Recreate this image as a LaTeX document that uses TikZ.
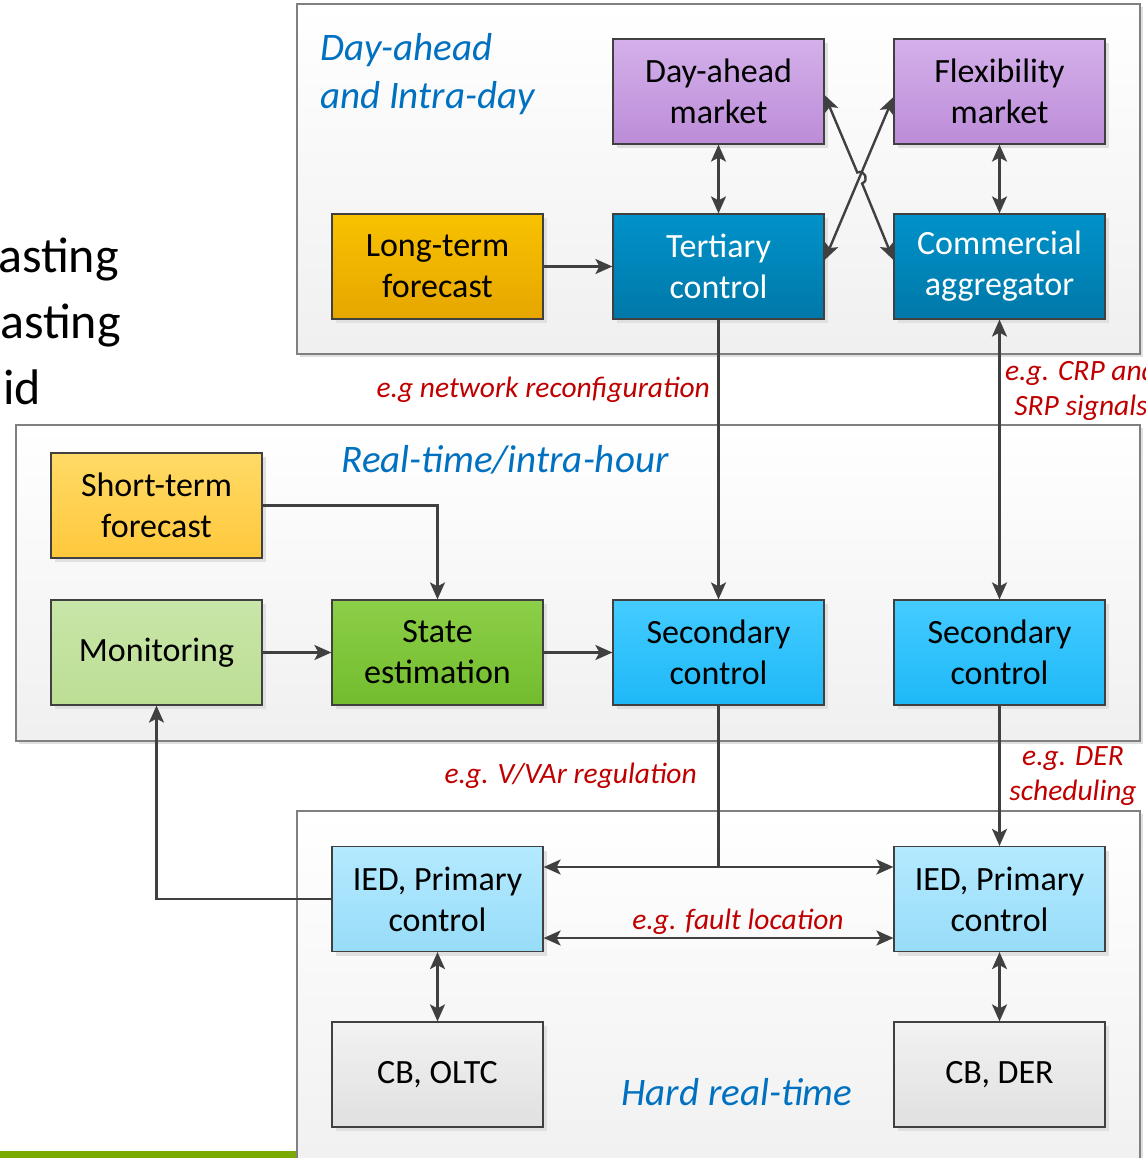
\documentclass[tikz,border=0pt]{standalone}
\usepackage{fontspec}
\setmainfont{Carlito}
\usetikzlibrary{arrows.meta,shadows}

\definecolor{linegray}{HTML}{404040}
\definecolor{purpletop}{HTML}{D4B0EA}
\definecolor{purplebot}{HTML}{BC8CD8}
\definecolor{bluetop}{HTML}{0092CA}
\definecolor{bluebot}{HTML}{0078A8}
\definecolor{orangetop}{HTML}{F8C200}
\definecolor{orangebot}{HTML}{E6A600}
\definecolor{yellowtop}{HTML}{FFDA66}
\definecolor{yellowbot}{HTML}{FFC83C}
\definecolor{lgreentop}{HTML}{C8E6A8}
\definecolor{lgreenbot}{HTML}{BCDE94}
\definecolor{greentop}{HTML}{8CCF48}
\definecolor{greenbot}{HTML}{72BC2E}
\definecolor{cyantop}{HTML}{44CCFF}
\definecolor{cyanbot}{HTML}{1EB8F8}
\definecolor{lcyantop}{HTML}{B4EAFF}
\definecolor{lcyanbot}{HTML}{98DCF8}
\definecolor{graytop}{HTML}{F2F2F2}
\definecolor{graybot}{HTML}{E0E0E0}
\definecolor{titleblue}{HTML}{0070C0}
\definecolor{labelred}{HTML}{C00000}
\definecolor{bargreen}{HTML}{7AAA00}

\begin{document}
\begin{tikzpicture}
     [
     x=1pt, y=-1pt,
     panel/.style={draw=black!50, line width=1.2pt, top color=white, bottom color=black!6, drop shadow={shadow xshift=3pt, shadow yshift=-3pt, fill=black!12, opacity=1}},
     box/.style={rectangle, draw=black!75, line width=1.2pt, align=center, minimum width=211pt, minimum height=105pt, font=\fontsize{34}{41}\selectfont, drop shadow={shadow xshift=4pt, shadow yshift=-4pt, fill=black!12, opacity=1}},
     purplebox/.style={box, top color=purpletop, bottom color=purplebot},
     bluebox/.style={box, top color=bluetop, bottom color=bluebot, text=white},
     orangebox/.style={box, top color=orangetop, bottom color=orangebot},
     yellowbox/.style={box, top color=yellowtop, bottom color=yellowbot},
     lgreenbox/.style={box, top color=lgreentop, bottom color=lgreenbot},
     greenbox/.style={box, top color=greentop, bottom color=greenbot},
     cyanbox/.style={box, top color=cyantop, bottom color=cyanbot},
     lcyanbox/.style={box, top color=lcyantop, bottom color=lcyanbot},
     graybox/.style={box, top color=graytop, bottom color=graybot},
     conn/.style={draw=linegray, line width=2.4pt},
     arr/.style={conn, -{Stealth[length=17pt, width=15pt, inset=4pt]}},
     biarr/.style={conn, {Stealth[length=17pt, width=15pt, inset=4pt]}-{Stealth[length=17pt, width=15pt, inset=4pt]}},
     redtext/.style={text=labelred, font=\fontsize{29.5}{35}\selectfont\itshape, inner sep=0pt},
     bluetitle/.style={text=titleblue, font=\fontsize{39}{48}\selectfont\itshape, inner sep=0pt},
     slidetext/.style={font=\fontsize{50}{60}\selectfont, inner sep=0pt},
     ]
 \clip (0,0) rectangle (1145,1158);
 \fill[white] (0,0) rectangle (1145,1158);

 \node at (119,272) [slidetext, anchor=base east] (frag1) {asting};
 \node at (121,338) [slidetext, anchor=base east] (frag2) {asting};
 \node at (41,404) [slidetext, anchor=base east] (frag3) {id};
 \fill[bargreen] (0,1151) rectangle (300,1170);

 \path[panel] (297,4) rectangle (1140,354);
 \path[panel] (16,425) rectangle (1140,741);
 \path[panel] (297,811) rectangle (1140,1190);

 \node at (320,74) [bluetitle, anchor=west, align=left] (ttop) {Day-ahead\\and Intra-day};
 \node at (505,460) [bluetitle] (tmid) {Real-time/intra-hour};
 \node at (737,1092) [bluetitle] (tbot) {Hard real-time};

 \node at (718.5,91.5) [purplebox] (dam) {Day-ahead\\market};
 \node at (999.5,91.5) [purplebox] (flex) {Flexibility\\market};
 \node at (437.5,266.5) [orangebox] (ltf) {Long-term\\forecast};
 \node at (718.5,266.5) [bluebox] (ter) {Tertiary\\control};
 \node at (999.5,266.5) [bluebox] (agg) {Commercial\\aggregator};
 \node at (156.5,505.5) [yellowbox] (stf) {Short-term\\forecast};
 \node at (156.5,652.5) [lgreenbox] (mon) {Monitoring};
 \node at (437.5,652.5) [greenbox] (se) {State\\estimation};
 \node at (718.5,652.5) [cyanbox] (sec1) {Secondary\\control};
 \node at (999.5,652.5) [cyanbox] (sec2) {Secondary\\control};
 \node at (437.5,899) [lcyanbox] (ied1) {IED, Primary\\control};
 \node at (999.5,899) [lcyanbox] (ied2) {IED, Primary\\control};
 \node at (437.5,1074.5) [graybox] (cb1) {CB, OLTC};
 \node at (999.5,1074.5) [graybox] (cb2) {CB, DER};

 \draw[biarr] (dam) -- (ter);
 \draw[biarr] (flex) -- (agg);
 \draw[arr] (ltf) -- (ter);
 \coordinate (hopa) at (857.3,172.5);
 \coordinate (hopb) at (862.1,183.5);
 \draw[biarr] ([yshift=-3.5pt]dam.east) -- (hopa) .. controls +(7.4,-3.2) and +(7.4,-3.2) .. (hopb) -- ([yshift=6.5pt]agg.west);
 \draw[biarr] ([yshift=6.5pt]ter.east) -- ([yshift=-5.5pt]flex.west);

 \draw[arr] (ter) -- (sec1);
 \draw[biarr] (agg) -- (sec2);
 \draw[arr] (stf.east) -| (se.north);
 \draw[arr] (mon) -- (se);
 \draw[arr] (se) -- (sec1);
 \coordinate (split) at (718.5,867);
 \draw[conn] (sec1) -- (split);
 \draw[arr] (split) -- (split -| ied1.east);
 \draw[arr] (split) -- (split -| ied2.west);
 \draw[arr] (sec2) -- (ied2);
 \draw[biarr] ([yshift=-39pt]ied1.east) -- ([yshift=-39pt]ied2.west);
 \draw[arr] (ied1.west) -| (mon.south);
 \draw[biarr] (ied1) -- (cb1);
 \draw[biarr] (ied2) -- (cb2);

 \node at (710,390) [redtext, anchor=east] (lnet) {e.g network reconfiguration};
 \node at (1081,390) [redtext, align=center] (lcrp) {e.g. CRP and\\SRP signals};
 \node at (697,776) [redtext, anchor=east] (lvar) {e.g. V/VAr regulation};
 \node at (1073,776) [redtext, align=center] (lder) {e.g. DER\\scheduling};
 \node at (738,922) [redtext] (lfault) {e.g. fault location};
 \end{tikzpicture}
\end{document}
